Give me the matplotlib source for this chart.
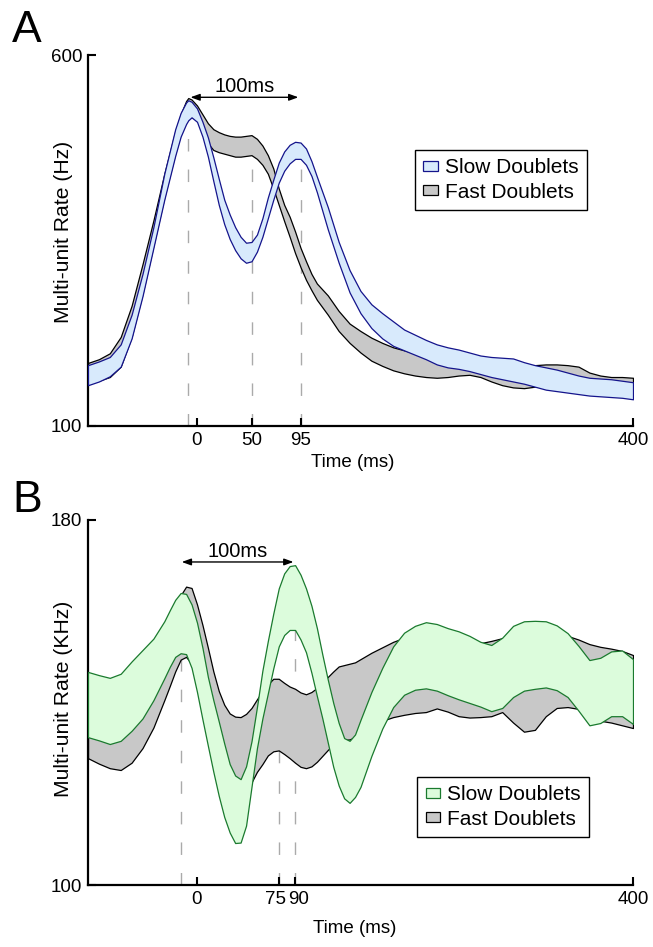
import matplotlib
matplotlib.use("Agg")
import matplotlib.pyplot as plt
from matplotlib.transforms import ScaledTranslation

plt.rcParams['font.family'] = ['Liberation Sans', 'DejaVu Sans']

# ---------------- Panel A data (time in ms, rate in Hz) ----------------
tA = [-100, -90, -80, -70, -60, -50, -40, -30, -20, -15, -10, -8, -5, 0, 5, 10, 15, 20, 25, 30,
      35, 40, 45, 50, 55, 60, 65, 70, 75, 80, 85, 90, 95, 100, 105, 110, 120, 130, 140, 150,
      160, 170, 180, 190, 200, 210, 220, 230, 240, 250, 260, 270, 280, 290, 300, 310, 320, 330,
      340, 350, 360, 370, 380, 390, 400]
slowA_upper = [182, 187, 193, 210, 250, 305, 368, 440, 500, 522, 536, 539, 537, 528, 510, 489, 462, 433, 405, 385,
               368, 355, 347, 348, 358, 380, 408, 432, 455, 470, 479, 483, 482, 474, 457, 436, 395, 348, 310, 282,
               264, 252, 241, 230, 223, 216, 210, 206, 203, 199, 195, 193, 192, 191, 186, 182, 179, 176,
               172, 168, 165, 164, 163, 161, 159]
slowA_lower = [155, 160, 167, 180, 218, 275, 340, 405, 464, 490, 507, 512, 516, 510, 490, 463, 430, 398, 372, 352,
               337, 326, 320, 322, 335, 355, 380, 405, 428, 444, 454, 460, 460, 452, 437, 415, 365, 320, 280, 252,
               232, 218, 208, 202, 196, 190, 183, 179, 177, 174, 170, 166, 163, 160, 157, 153, 149, 147,
               145, 143, 141, 140, 139, 138, 136]
fastA_upper = [185, 190, 198, 220, 262, 318, 377, 440, 497, 520, 538, 542, 540, 532, 520, 508, 500, 496, 493, 491,
               490, 490, 491, 492, 487, 478, 465, 447, 420, 398, 382, 362, 340, 322, 305, 292, 276, 255, 238, 228,
               219, 212, 206, 202, 198, 194, 190, 187, 184, 181, 178, 176, 176, 178, 181, 182, 183, 183,
               182, 180, 172, 168, 166, 166, 165]
fastA_lower = [158, 161, 166, 180, 220, 278, 343, 408, 467, 493, 510, 515, 516, 513, 498, 481, 472, 469, 467, 465,
               463, 463, 464, 465, 460, 452, 440, 420, 398, 376, 355, 333, 314, 297, 283, 270, 250, 228, 212, 199,
               188, 181, 175, 171, 168, 166, 165, 166, 168, 169, 166, 160, 155, 152, 151, 153, 154, 155,
               155, 156, 157, 157, 158, 158, 158]
xticksA = [0, 50, 95, 400]
yticksA = [100, 600]
markersA_t = [-8, 50, 95]
markersA_top = [512, 465, 460]
arrowA = (-6, 93, 543)

# ---------------- Panel B data (time in ms, rate in KHz) ----------------
tB = [-100, -90, -80, -70, -60, -50, -40, -30, -25, -20, -15, -10, -5, 0, 5, 10, 15, 20, 25, 30,
      35, 40, 45, 50, 55, 60, 65, 70, 75, 80, 85, 90, 95, 100, 105, 110, 115, 120, 125, 130,
      135, 140, 145, 150, 160, 170, 180, 190, 200, 210, 220, 230, 240, 250, 260, 270, 280, 290,
      300, 310, 320, 330, 340, 350, 360, 370, 380, 390, 400]
slowB_upper = [146.7, 146.0, 145.4, 146.3, 149.0, 151.5, 154.0, 157.8, 160.2, 162.5, 164.0, 163.8, 161.5, 157.5,
               152.0, 145.6, 140.5, 135.8, 131.0, 126.5, 124.0, 123.2, 126.0, 131.5, 139.0, 147.0, 153.5,
               159.5, 165.0, 168.3, 169.9, 170.1, 168.0, 165.0, 161.2, 156.3, 150.5, 145.0, 139.9, 135.5,
               132.2, 131.6, 133.0, 136.2, 142.3, 147.6, 152.3, 155.3, 156.8, 157.6, 157.2, 156.3, 155.6,
               154.6, 153.3, 152.6, 154.2, 156.8, 157.8, 157.9, 157.8, 156.9, 155.2, 152.4, 149.3, 149.8,
               151.2, 151.4, 149.5]
slowB_lower = [132.4, 131.7, 130.9, 131.6, 133.8, 136.5, 140.5, 145.3, 147.8, 150.0, 150.8, 150.6, 147.6, 142.3,
               136.3, 130.5, 124.8, 119.5, 114.9, 111.5, 109.2, 109.3, 113.0, 121.5, 130.0, 136.5, 142.0,
               147.5, 152.3, 154.8, 155.9, 155.9, 153.8, 151.0, 146.5, 141.4, 136.5, 131.2, 125.9, 121.8,
               119.0, 118.0, 119.3, 121.5, 128.3, 134.3, 139.0, 141.7, 142.8, 143.1, 142.6, 141.6, 140.7,
               139.9, 139.1, 138.1, 138.8, 141.2, 142.6, 143.0, 143.3, 142.7, 141.2, 138.2, 135.0, 135.5,
               137.0, 137.0, 135.3]
fastB_upper = [138.0, 137.5, 137.0, 137.5, 139.5, 142.0, 146.0, 150.5, 153.5, 158.0, 163.5, 165.4, 165.1, 161.5,
               157.0, 152.0, 146.8, 142.5, 139.5, 137.6, 136.9, 136.8, 137.5, 138.8, 140.7, 142.5, 144.0,
               145.2, 145.2, 144.3, 143.5, 143.0, 142.2, 141.8, 142.3, 143.2, 144.6, 145.6, 146.8, 147.9,
               148.2, 148.5, 148.8, 149.5, 150.9, 152.1, 153.3, 154.2, 154.8, 155.0, 155.0, 154.7, 154.2,
               153.6, 153.0, 153.5, 154.1, 154.3, 154.5, 154.6, 154.7, 154.8, 154.6, 153.8, 152.8, 152.2,
               151.8, 151.3, 150.4]
fastB_lower = [127.8, 126.6, 125.6, 125.2, 126.8, 130.0, 134.5, 140.5, 143.6, 146.8, 149.4, 150.0, 148.5, 145.0,
               139.0, 133.0, 127.5, 123.5, 120.5, 119.0, 118.5, 119.0, 120.5, 122.5, 124.8, 126.5, 128.4,
               129.3, 129.5, 128.7, 127.8, 126.8, 125.9, 125.6, 126.0, 127.0, 128.3, 129.6, 130.8, 131.5,
               131.8, 131.9, 132.4, 133.0, 134.6, 136.0, 136.8, 137.3, 137.7, 137.9, 138.7, 138.0, 137.0,
               136.7, 136.8, 137.0, 137.9, 135.6, 133.6, 134.0, 137.0, 138.8, 139.0, 138.6, 137.2, 136.0,
               135.6, 135.0, 134.4]
xticksB = [0, 75, 90, 400]
yticksB = [100, 180]
markersB_t = [-15, 75, 90]
markersB_top = [150, 129.5, 155.9]
arrowB = (-14, 88.5, 170.8)

legend_labels = ["Slow Doublets", "Fast Doublets"]

GRAY_FILL = '#c8c8c8'
BLUE_FILL = '#d8eafc'
BLUE_EDGE = '#14148c'
GREEN_FILL = '#dcfcdc'
GREEN_EDGE = '#1a7a2e'

W, H = 653, 947
fig = plt.figure(figsize=(W / 100, H / 100), dpi=100)


def style_axes(ax, xticks, yticks, ylim, ylabel, ylab_y):
    ax.set_xlim(-100, 400)
    ax.set_ylim(*ylim)
    for s in ('top', 'right'):
        ax.spines[s].set_visible(False)
    for s in ('left', 'bottom'):
        ax.spines[s].set_linewidth(1.6)
    ax.set_xticks(xticks)
    ax.set_xticklabels([str(v) for v in xticks])
    ax.set_yticks(yticks)
    ax.set_yticklabels([str(v) for v in yticks])
    ax.tick_params(direction='in', length=6, width=1.5, labelsize=13.5, pad=4)
    ax.set_xlabel('Time (ms)', fontsize=13.5)
    ax.xaxis.set_label_coords(0.486, -0.075)
    ax.set_ylabel(ylabel, fontsize=15.2)
    ax.yaxis.set_label_coords(-0.028, ylab_y)


def draw_panel(ax, t, su, sl, fu, fl, fill, edge, mt, mtop, arrow, ylim):
    for x, top in zip(mt, mtop):
        ax.plot([x, x], [ylim[0], top], color='#aaaaaa', lw=1.0,
                linestyle=(0, (9, 13)), zorder=1)
    fast = ax.fill_between(t, fl, fu, facecolor=GRAY_FILL, edgecolor='black',
                           linewidth=0.9, zorder=2)
    slow = ax.fill_between(t, sl, su, facecolor=fill, edgecolor=edge,
                           linewidth=0.9, zorder=3)
    a0, a1, ay = arrow
    ax.annotate('', xy=(a1, ay), xytext=(a0, ay),
                arrowprops=dict(arrowstyle='<|-|>,head_length=0.55,head_width=0.2',
                                color='black', lw=1.0, shrinkA=0, shrinkB=0),
                zorder=5)
    return slow, fast


def make_legend(ax, handles, anchor):
    leg = ax.legend(handles, legend_labels, loc='upper left', bbox_to_anchor=anchor,
                    frameon=True, fancybox=False, edgecolor='black', framealpha=1,
                    fontsize=15, handlelength=0.7, handleheight=0.35, handletextpad=0.35,
                    borderpad=0.4, labelspacing=0.25, borderaxespad=0)
    leg.get_frame().set_linewidth(1.0)
    return leg


# Panel A
axA = fig.add_axes([88 / W, 1 - 426 / H, 545 / W, 371 / H])
sA, fA = draw_panel(axA, tA, slowA_upper, slowA_lower, fastA_upper, fastA_lower,
                    BLUE_FILL, BLUE_EDGE, markersA_t, markersA_top, arrowA, (100, 600))
axA.text(44, 550, '100ms', ha='center', va='baseline', fontsize=14.5)
style_axes(axA, xticksA, yticksA, (100, 600), 'Multi-unit Rate (Hz)', 0.524)
make_legend(axA, [sA, fA], (0.600, 0.744))

# Panel B
axB = fig.add_axes([88 / W, 1 - 885 / H, 545 / W, 365 / H])
sB, fB = draw_panel(axB, tB, slowB_upper, slowB_lower, fastB_upper, fastB_lower,
                    GREEN_FILL, GREEN_EDGE, markersB_t, markersB_top, arrowB, (100, 180))
axB.text(37, 171.9, '100ms', ha='center', va='baseline', fontsize=14.5)
style_axes(axB, xticksB, yticksB, (100, 180), 'Multi-unit Rate (KHz)', 0.51)
axB.xaxis.set_label_coords(0.49, -0.095)
make_legend(axB, [sB, fB], (0.604, 0.296))

# nudge the close "75" / "90" tick labels apart as in the reference
labsB = axB.get_xticklabels()
for lab, dx in zip(labsB, [0, -3.5, 3.5, 0]):
    lab.set_transform(lab.get_transform() + ScaledTranslation(dx / 100, 0, fig.dpi_scale_trans))

fig.text(12 / W, 1 - 42 / H, 'A', fontsize=32, va='baseline', ha='left')
fig.text(12 / W, 1 - 512 / H, 'B', fontsize=32, va='baseline', ha='left')

fig.savefig('out.png', dpi=100)
